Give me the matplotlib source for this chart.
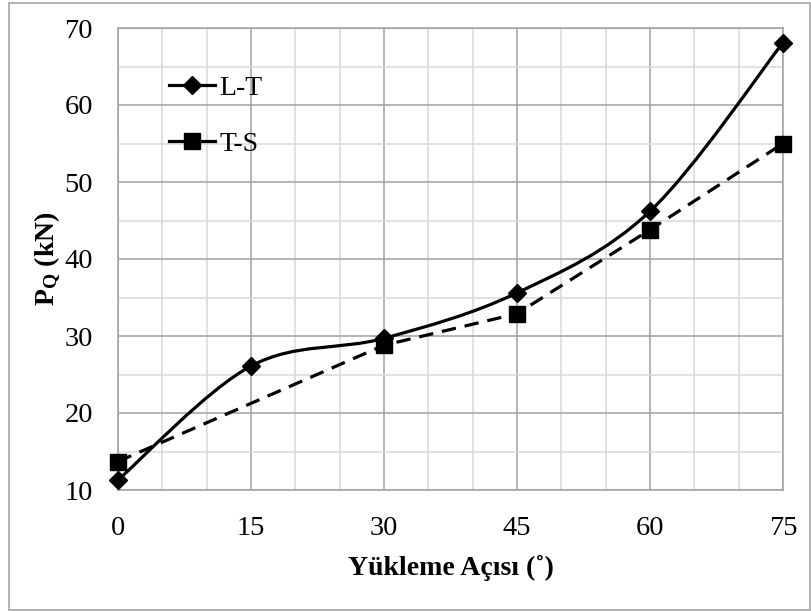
import matplotlib
matplotlib.use('Agg')
import matplotlib.pyplot as plt
from matplotlib.path import Path
from matplotlib.patches import PathPatch, Rectangle
from matplotlib.lines import Line2D
from matplotlib.ticker import MultipleLocator

# veriler
aci_lt = [0, 15, 30, 45, 60, 75]
pq_lt = [11.3, 26.1, 29.7, 35.6, 46.2, 68.1]
aci_ts = [0, 30, 45, 60, 75]
pq_ts = [13.7, 28.8, 32.9, 43.8, 55.0]
x_ticks = [0, 15, 30, 45, 60, 75]
y_ticks = [10, 20, 30, 40, 50, 60, 70]

plt.rcParams['font.family'] = ['Liberation Serif', 'DejaVu Serif']
plt.rcParams['mathtext.fontset'] = 'custom'
plt.rcParams['mathtext.rm'] = 'Liberation Serif'
plt.rcParams['mathtext.bf'] = 'Liberation Serif:bold'

fig = plt.figure(figsize=(8.12, 6.11), dpi=100)
fig.patches.append(Rectangle((9/812, 1/611), 801/812, 607/611, transform=fig.transFigure,
                             fill=False, edgecolor='#a6a6a6', lw=1.2))
ax = fig.add_axes([118/812, 1 - 490/611, 665/812, 462/611])


# Excel tarzi yumusatilmis egri (Bezier)
def smooth_path(xs, ys):
    pts = list(zip(xs, ys))
    n = len(pts)
    verts = [pts[0]]
    codes = [Path.MOVETO]
    for i in range(n - 1):
        p0 = pts[max(i - 1, 0)]
        p1 = pts[i]
        p2 = pts[i + 1]
        p3 = pts[min(i + 2, n - 1)]
        c1 = (p1[0] + (p2[0] - p0[0]) / 6, p1[1] + (p2[1] - p0[1]) / 6)
        c2 = (p2[0] - (p3[0] - p1[0]) / 6, p2[1] - (p3[1] - p1[1]) / 6)
        verts += [c1, c2, p2]
        codes += [Path.CURVE4] * 3
    return Path(verts, codes)


lw = 2.3
ax.add_patch(PathPatch(smooth_path(aci_lt, pq_lt), fill=False, edgecolor='black', lw=lw, zorder=3))
ax.plot(aci_lt, pq_lt, ls='none', marker='D', ms=9.5, color='black', zorder=4, clip_on=False)
ax.plot(aci_ts, pq_ts, ls=(0, (4.5, 2.8)), lw=lw, marker='s', ms=12, color='black', zorder=3,
        clip_on=False)

ax.set_xlim(0, 75)
ax.set_ylim(10, 70)
ax.xaxis.set_major_locator(MultipleLocator(15))
ax.xaxis.set_minor_locator(MultipleLocator(5))
ax.yaxis.set_major_locator(MultipleLocator(10))
ax.yaxis.set_minor_locator(MultipleLocator(5))
ax.set_xticks(x_ticks)
ax.set_yticks(y_ticks)
ax.grid(which='major', color='#a0a0a0', lw=1.1)
ax.grid(which='minor', color='#d9d9d9', lw=1.1)
ax.set_axisbelow(True)
for s in ax.spines.values():
    s.set_color('#a0a0a0')
    s.set_linewidth(1.1)
ax.tick_params(which='both', length=0, labelsize=20.5)
ax.tick_params(axis='x', pad=19)
ax.tick_params(axis='y', pad=18)

ax.set_xlabel('Yükleme Açısı (˚)', fontsize=20, fontweight='bold', labelpad=10)
ax.set_ylabel(r'$\mathbf{P_Q}$ (kN)', fontsize=20, fontweight='bold', labelpad=1)

handles = [Line2D([], [], color='black', lw=lw, marker='D', ms=9.5),
           Line2D([], [], color='black', lw=lw, marker='s', ms=12)]
ax.legend(handles, ['L-T', 'T-S'], loc='upper left', bbox_to_anchor=(0.077, 0.897),
          frameon=False, fontsize=20, handlelength=1.65, handletextpad=0.15,
          labelspacing=1.1, borderpad=0, borderaxespad=0)

fig.savefig('out.png', dpi=100)
